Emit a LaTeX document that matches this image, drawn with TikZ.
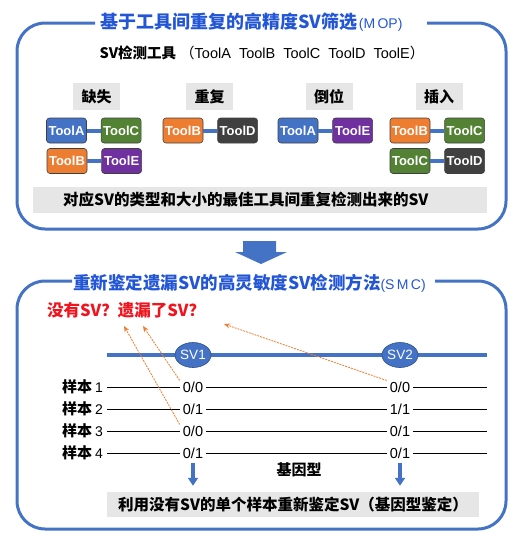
\documentclass[tikz,border=0pt]{standalone}
\usepackage{fontspec}
\setmainfont{Liberation Sans}
\newfontfamily\cjk{Noto Sans CJK SC}
\usepackage{tikz}
\usetikzlibrary{arrows.meta,positioning,shapes.geometric}
\definecolor{frameblue}{HTML}{4472C4}
\definecolor{titleblue}{HTML}{2356D6}
\definecolor{alertred}{HTML}{F0141E}
\definecolor{hintorange}{HTML}{ED7D31}
\definecolor{barbg}{HTML}{E7E6E6}
\definecolor{toolA}{HTML}{4472C4}
\definecolor{toolB}{HTML}{ED7D31}
\definecolor{toolC}{HTML}{548235}
\definecolor{toolD}{HTML}{404040}
\definecolor{toolE}{HTML}{7030A0}
\newcommand{\fsz}[1]{\fontsize{#1}{#1}\selectfont}
\tikzset{%
  % boxes
  frame/.style={draw=frameblue, line width=3pt, rounded corners=28pt},
  heading/.style={anchor=west, text=titleblue, inner sep=0pt},
  cat/.style={fill=barbg, minimum width=47pt, minimum height=27pt, inner sep=0pt, font=\cjk\bfseries\fsz{15}},
  tool/.style={draw=black!75, line width=0.6pt, rounded corners=3pt, minimum width=40pt, minimum height=25pt, inner sep=0pt, text=white, font=\bfseries\fsz{13}},
  bar/.style={fill=barbg, anchor=west, align=left, minimum height=26pt, inner ysep=0pt, font=\cjk\bfseries\fsz{15.5}},
  % genotype table
  sv/.style={ellipse, fill=frameblue, draw=frameblue!70!black, line width=0.6pt, minimum width=36pt, minimum height=25pt, inner sep=0pt, text=white, font=\fsz{13.5}},
  gt/.style={inner xsep=3pt, inner ysep=1pt, font=\fsz{14.5}},
  sample/.style={anchor=east, inner sep=0pt},
  % edge styles
  link/.style={draw=frameblue, line width=4pt},
  track/.style={draw=frameblue, line width=4.5pt},
  row/.style={draw=black, line width=0.8pt},
  hint/.style={-{Stealth[length=6pt,width=5pt]}, draw=hintorange, line width=0.8pt, dash pattern=on 2pt off 1pt},
  down/.style={-{Triangle[length=8pt,width=10pt]}, draw=frameblue, line width=3.5pt},
}
\newcommand{\toolpair}[4]{%
  % #1 = node name prefix
  % #2 = place of the left box
  % #3 = left tool, #4 = right tool
  \node[tool, fill=tool#3] (#1l) at #2 {Tool#3};
  \node[tool, fill=tool#4, right=14pt of #1l] (#1r) {Tool#4};
  \draw[link] (#1l) -- (#1r);
}
\begin{document}
\begin{tikzpicture}[x=1pt, y=-1pt]
  \useasboundingbox (0,0) rectangle (530,546);

  % Upper box: tool overlap (MOP)
  \draw[frame] (95,23) -- (17,23) -- (17,229) -- (506,229) -- (506,23) -- (427,23);
  \node[heading] (mop) at (100,22) {{\cjk\bfseries\fsz{18}基于工具间重复的高精度SV筛选}\,{\fsz{14}(M\,OP)}};
  \node[font=\fsz{14.5}] (tools) at (262,53) {{\cjk\bfseries SV检测工具}\ {\cjk （}ToolA\ \ ToolB\ \ ToolC\ \ ToolD\ \ ToolE{\cjk ）}};

  % SV types
  \node[cat] (del) at (96.5,96.5) {缺失};
  \node[cat] (dup) at (209.5,96.5) {重复};
  \node[cat] (inv) at (329,96.5) {倒位};
  \node[cat] (ins) at (439,96.5) {插入};

  % Tool pairs
  \toolpair{delA}{(66.5,130.5)}{A}{C}
  \toolpair{delB}{(67,161)}{B}{E}
  \toolpair{dupA}{(183,130.5)}{B}{D}
  \toolpair{invA}{(298,130.5)}{A}{E}
  \toolpair{insA}{(410,130.5)}{B}{C}
  \toolpair{insB}{(410,161)}{C}{D}

  \node[bar, text width=394pt, inner xsep=30pt] (best) at (33,200) {对应SV的类型和大小的最佳工具间重复检测出来的SV};

  % Step arrow
  \fill[frameblue] (243,241) -- (276,241) -- (276,252) -- (287,252) -- (261,264) -- (235,252) -- (243,252) -- cycle;

  % Lower box: re-genotyping (SMC)
  \draw[frame] (72,281) -- (17,281) -- (17,529) -- (506,529) -- (506,281) -- (435,281);
  \node[heading] (smc) at (73,283) {{\cjk\bfseries\fsz{17.5}重新鉴定遗漏SV的高灵敏度SV检测方法}{\fsz{14}(S\,M\,C)}};
  \node[anchor=west, inner sep=0pt, text=alertred, font=\cjk\bfseries\fsz{16.5}] (ask) at (47,310) {没有SV？遗漏了SV？};

  % SV track
  \coordinate (trackL) at (107,355);
  \coordinate (trackR) at (487,355);
  \draw[track] (trackL) -- (trackR);
  \node[sv] (sv1) at (193,355) {SV1};
  \node[sv] (sv2) at (400,355) {SV2};

  % Samples and genotypes
  \foreach \i/\y/\p/\q/\r/\s in {1/387/0/0/0/0, 2/409/0/1/1/1, 3/431/0/0/0/1, 4/453/0/1/0/1}{
    \node[sample] (lab\i) at (103,\y) {{\cjk\bfseries\fsz{15}样本} {\fsz{14}\i}};
    \node[gt] (g1\i) at (193,\y) {\p/\q};
    \node[gt] (g2\i) at (400,\y) {\r/\s};
    \coordinate (rowL\i) at (107,\y);
    \coordinate (rowR\i) at (487,\y);
    \draw[row] (rowL\i) -- (g1\i) -- (g2\i) -- (rowR\i);
  }

  % Hints to the question
  \coordinate (tip1) at (124,326);
  \coordinate (tip2) at (143,326);
  \coordinate (tip3) at (224,324);
  \draw[hint] (g13.north west) -- (tip1);
  \draw[hint] (g11.north west) -- (tip2);
  \draw[hint] (g21.north west) -- (tip3);

  \node[font=\cjk\bfseries\fsz{15}] (gtlabel) at (299,470) {基因型};

  \node[bar, minimum height=25pt, text width=350pt, inner xsep=11pt] (regen) at (107,504.5) {利用没有SV的单个样本重新鉴定SV（基因型鉴定）};
  \draw[down, shorten <=3pt, shorten >=6pt] (g14) -- (g14 |- regen.north);
  \draw[down, shorten <=3pt, shorten >=6pt] (g24) -- (g24 |- regen.north);

\end{tikzpicture}
\end{document}
